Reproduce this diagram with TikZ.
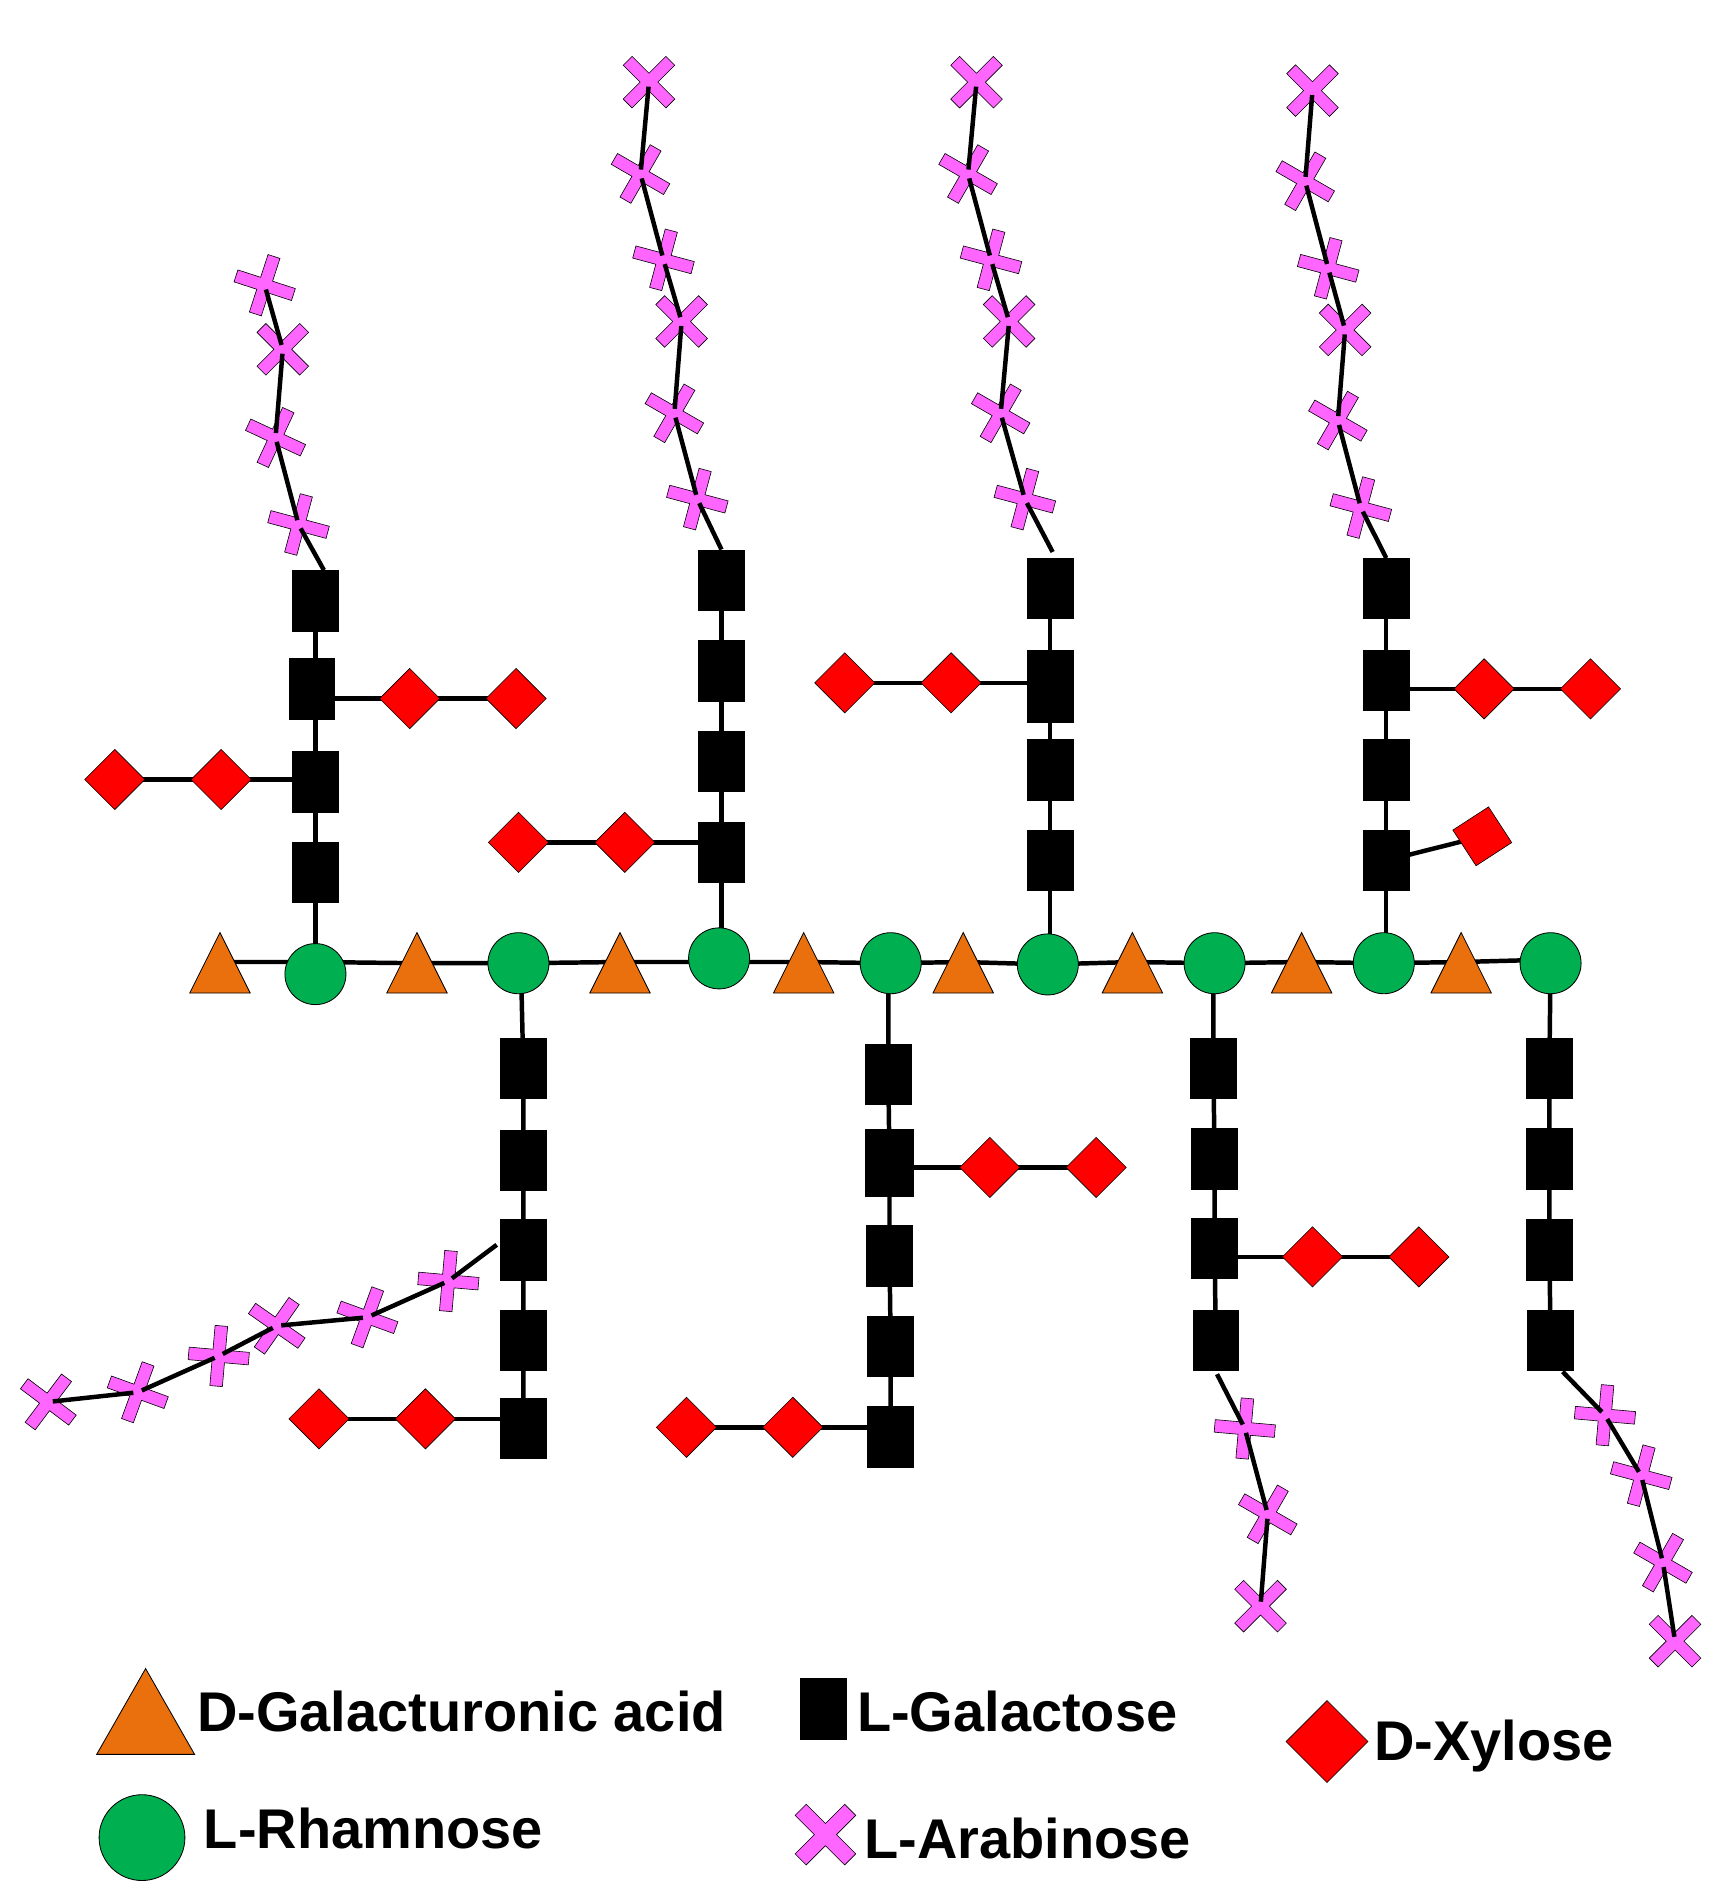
\documentclass[tikz,border=0pt]{standalone}
\usepackage{fontspec}
\setmainfont{Liberation Sans}
\usetikzlibrary{shapes.geometric,backgrounds}
\definecolor{galc}{HTML}{EA700D}
\definecolor{rhac}{HTML}{00B050}
\definecolor{arac}{HTML}{FF66FF}
\definecolor{xylc}{HTML}{FF0000}
\tikzset{
  sqbox/.style={rectangle,fill=black,draw=black,line width=0.5pt,inner sep=0pt,minimum width=38pt,minimum height=50pt},
  rhamnode/.style={circle,fill=rhac,draw=black,line width=0.7pt,inner sep=0pt,minimum size=50.5pt},
  galnode/.style={isosceles triangle,isosceles triangle stretches,shape border rotate=90,fill=galc,draw=black,line width=0.7pt,inner sep=0pt,minimum width=50pt,minimum height=50pt,anchor=lower side},
  xylnode/.style={diamond,aspect=1,fill=xylc,draw=black,line width=0.5pt,inner sep=0pt,minimum width=50pt,minimum height=50pt},
  arabpt/.style={circle,inner sep=0pt,minimum size=7pt},
  arabshape/.style={fill=arac,draw=black,line width=0.5pt,line join=miter},
  link/.style={draw=black,line width=3.7pt},
  legendtext/.style={inner sep=0pt,anchor=base west,font=\fontsize{46.3}{50}\selectfont\bfseries},
}
\newcommand{\arabpoly}[5]{%
  \path[arabshape,shift={(#1,#2)},rotate=#3]
    (-#4,-#5)--(-#5,-#5)--(-#5,-#4)--(#5,-#4)--(#5,-#5)--(#4,-#5)--(#4,#5)--(#5,#5)--(#5,#4)--(-#5,#4)--(-#5,#5)--(-#4,#5)--cycle;}
\newcommand{\arab}[4]{%
  \arabpoly{#2}{#3}{#4}{25}{5.2}
  \node[arabpt] (#1) at (#2,#3) {};}
\begin{document}
\begin{tikzpicture}[x=1pt,y=-1pt]
\useasboundingbox (0,0) rectangle (1432.3,1568);
% backbone
\foreach \n/\x in {1/182,2/345,3/513,4/665,5/797,6/937,7/1077,8/1209}
  \node[galnode] (t\n) at (\x,822) {};
\foreach \n/\x/\y in {1/261/806,2/429/797,3/595/793,4/737/797,5/867/798,6/1005/797,7/1145/797,8/1283/797}
  \node[rhamnode] (r\n) at (\x,\y) {};
% upper galactose columns
\foreach \n/\x/\y in {a1/261/497,a2/258/570,a3/261/647,a4/261/722,
  b1/597/480,b2/597/555,b3/597/630,b4/597/705,
  c1/869/487,c3/869/637,c4/869/712,
  d1/1147/487,d2/1147/563,d3/1147/637,d4/1147/712,
  e1/433/884,e2/433/960,e3/433/1034,e4/433/1109,e5/433/1182,
  f1/735/889,f3/736/1039,f4/737/1114,f5/737/1189,
  g1/1004/884,g2/1005/959,g3/1005/1033,g4/1006/1109,
  h1/1282/884,h2/1282/959,h3/1282/1034,h4/1283/1109}
  \node[sqbox] (\n) at (\x,\y) {};
\node[sqbox,minimum height=60pt] (c2) at (869,568) {};
\node[sqbox,minimum width=40pt,minimum height=55pt] (f2) at (736,962) {};
% xylose
\foreach \n/\x/\y in {xa/339/578,xb/427/578,xc/183/645,xd/95/645,
  xe/517/697,xf/429/697,xg/787/565,xh/699/565,
  xi/1228/570,xj/1316/570,xl/819/966,xm/907/966,
  xn/352/1174,xo/264/1174,xp/656/1181,xq/568/1181,
  xr/1086/1040,xs/1174/1040}
  \node[xylnode] (\n) at (\x,\y) {};
\node[xylnode,rotate=-12,minimum width=50pt,minimum height=50pt] (xk) at (1226.5,692) {};
% arabinose chains
\arab{p1}{219}{236}{-18}\arab{p2}{234}{289}{45}\arab{p3}{228}{362}{-25}\arab{p4}{247}{434}{-15}
\arab{q1}{537}{68}{45}\arab{q2}{530}{144}{-30}\arab{q3}{549}{215}{-15}\arab{q4}{564}{266}{45}\arab{q5}{558}{342}{-30}\arab{q6}{577}{413}{-15}
\arab{u1}{808}{68}{45}\arab{u2}{801}{144}{-30}\arab{u3}{820}{215}{-15}\arab{u4}{835}{266}{45}\arab{u5}{828}{342}{-30}\arab{u6}{848}{413}{-15}
\arab{v1}{1086}{75}{45}\arab{v2}{1080}{150}{-30}\arab{v3}{1099}{222}{-15}\arab{v4}{1113}{273}{45}\arab{v5}{1107}{348}{-30}\arab{v6}{1126}{420}{-15}
\arab{w1}{40}{1160}{-37}\arab{w2}{114}{1152}{-20}\arab{w3}{181}{1122}{-5}\arab{w4}{229}{1097}{-35}\arab{w5}{304}{1090}{-20}\arab{w6}{371}{1060}{-5}
\arab{y1}{1030}{1182}{-5}\arab{y2}{1049}{1253}{-30}\arab{y3}{1043}{1329}{45}
\arab{z1}{1328}{1171}{-5}\arab{z2}{1358}{1221}{-15}\arab{z3}{1376}{1293}{-30}\arab{z4}{1386}{1358}{45}
\coordinate (wfree) at (411,1030);
\coordinate (yfree) at (1007,1137);
\coordinate (zfree) at (1293,1135);
% connectors over the crosses
\foreach \a/\b in {p1/p2,p2/p3,p3/p4,q1/q2,q2/q3,q3/q4,q4/q5,q5/q6,u1/u2,u2/u3,u3/u4,u4/u5,u5/u6,
  v1/v2,v2/v3,v3/v4,v4/v5,v5/v6,w1/w2,w2/w3,w3/w4,w4/w5,w5/w6,w6/wfree,
  yfree/y1,y1/y2,y2/y3,zfree/z1,z1/z2,z2/z3,z3/z4}
  \path[link] (\a) -- (\b);
\path[link] (p4) -- ([xshift=7pt]a1.north);
\path[link] (q6) -- (b1.north);
\path[link] (u6) -- ([xshift=2pt,yshift=5pt]c1.north);
\path[link] (v6) -- (d1.north);
% connectors behind the shapes
\begin{scope}[on background layer]
\path[link] ([yshift=26pt]t1.lower side) -- ([yshift=10pt]r1.center) -- ([yshift=25pt]t2.lower side) -- (r2.center)
  -- ([yshift=26pt]t3.lower side) -- ([yshift=-3pt]r3.center) -- ([yshift=26pt]t4.lower side) -- (r4.center)
  -- ([yshift=26pt]t5.lower side) -- (r5.center) -- ([yshift=26pt]t6.lower side) -- (r6.center)
  -- ([yshift=26pt]t7.lower side) -- (r7.center) -- ([yshift=26pt]t8.lower side) -- ([yshift=3pt]r8.center);
\path[link] (a1.center) -- ([xshift=3pt]a2.center) -- (a3.center) -- (a4.center) -- (r1.center);
\path[link] (b1.center) -- (b2.center) -- (b3.center) -- (b4.center) -- ([xshift=2pt]r3.center);
\path[link] (c1.center) -- (c2.center) -- (c3.center) -- (c4.center) -- ([xshift=2pt]r5.center);
\path[link] (d1.center) -- (d2.center) -- (d3.center) -- (d4.center) -- ([xshift=2pt]r7.center);
\path[link] ([xshift=2pt]r2.center) -- (e1.center) -- (e2.center) -- (e3.center) -- (e4.center) -- (e5.center);
\path[link] ([xshift=-2pt]r4.center) -- (f1.center) -- (f2.center) -- (f3.center) -- (f4.center) -- (f5.center);
\path[link] ([xshift=-1pt]r6.center) -- (g1.center) -- (g2.center) -- (g3.center) -- (g4.center);
\path[link] (r8.center) -- (h1.center) -- (h2.center) -- (h3.center) -- (h4.center);
\path[link] (xa.center) -- (xb.center);
\path[link] (xa.center) -- (xa -| a2.center);
\path[link] (xd.center) -- (xc.center) -- (xc -| a3.center);
\path[link] (xf.center) -- (xe.center) -- (xe -| b4.center);
\path[link] (xh.center) -- (xg.center) -- (xg -| c2.center);
\path[link] (xj.center) -- (xi.center) -- (xi -| d2.center);
\path[link] (d4.center) -- (xk.center);
\path[link] (xm.center) -- (xl.center) -- (xl -| f2.center);
\path[link] (xo.center) -- (xn.center) -- (xn -| e5.center);
\path[link] (xq.center) -- (xp.center) -- (xp -| f5.center);
\path[link] (xs.center) -- (xr.center) -- (xr -| g3.center);
\end{scope}
% legend
\node[galnode,minimum width=81pt,minimum height=71pt] (lgal) at (120.5,1452) {};
\node[rhamnode,minimum size=71pt] (lrha) at (117.5,1520.5) {};
\node[sqbox] (lsq) at (681,1414) {};
\arabpoly{683}{1518}{45}{29}{6.5}
\node[arabpt] (lara) at (683,1518) {};
\node[xylnode,minimum width=68pt,minimum height=68pt] (lxyl) at (1098,1441) {};
\node[legendtext] (tgal) at (163,1432.5) {D-Galacturonic acid};
\node[legendtext] (trha) at (168.5,1529.5) {L-Rhamnose};
\node[legendtext] (tsq) at (709,1432.5) {L-Galactose};
\node[legendtext] (tara) at (715,1537.5) {L-Arabinose};
\node[legendtext] (txyl) at (1137,1456.5) {D-Xylose};
\end{tikzpicture}
\end{document}
